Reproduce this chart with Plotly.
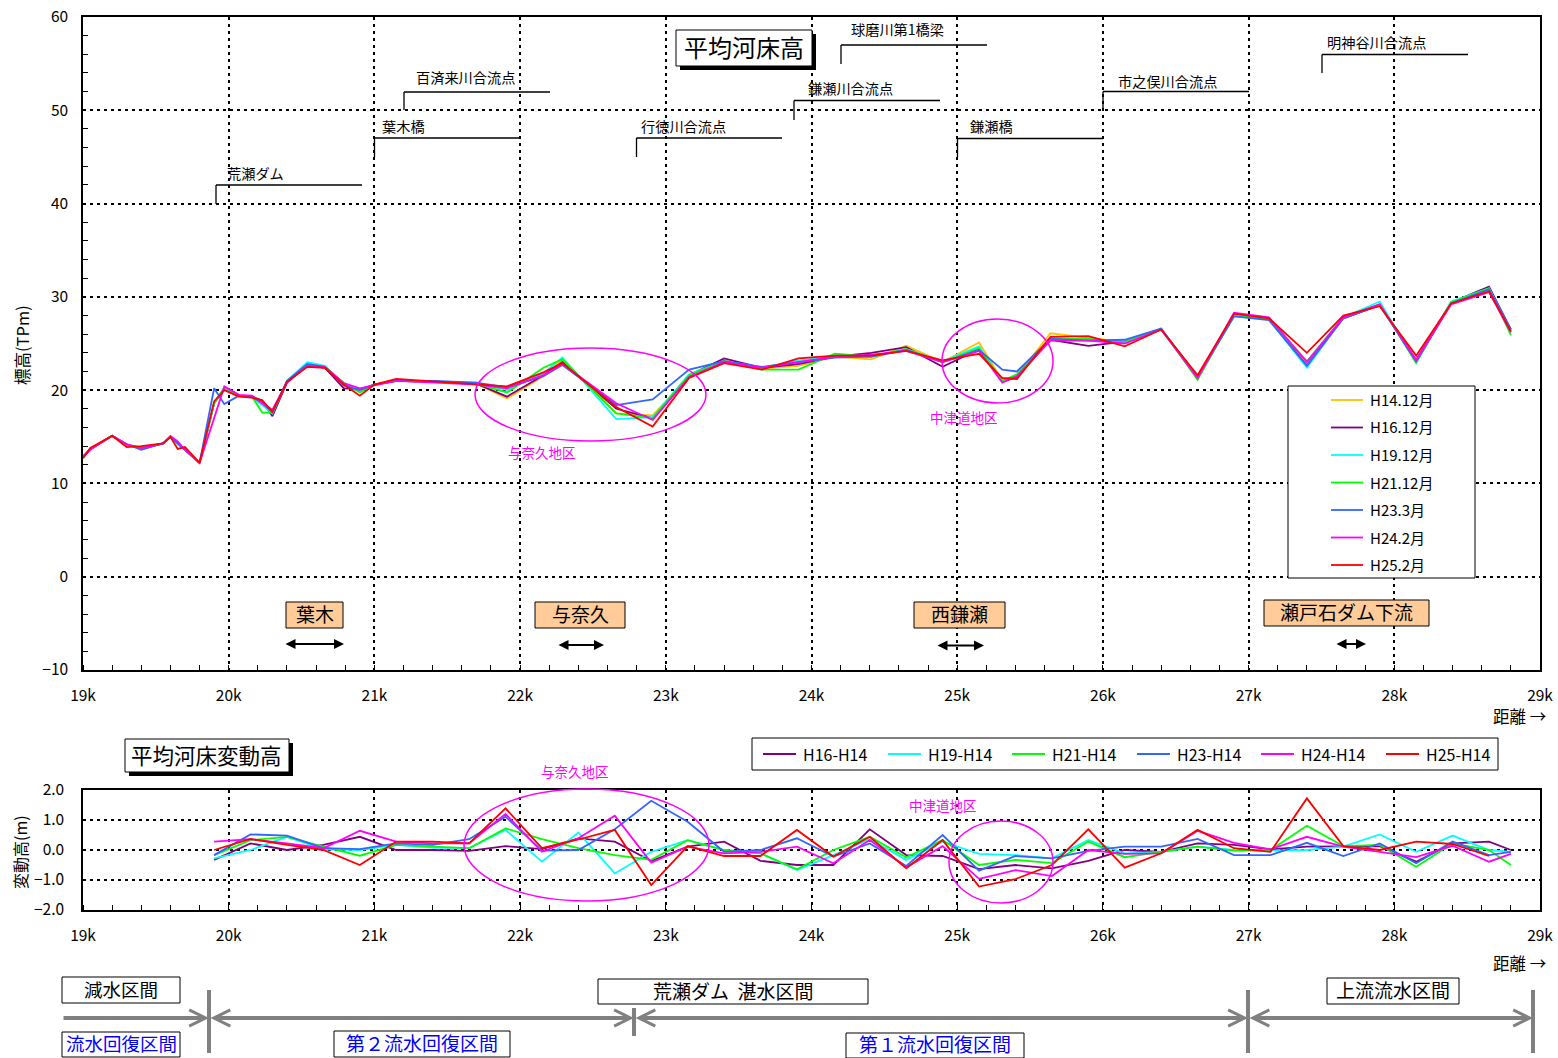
import plotly.graph_objects as go

W, H = 1558, 1058

# ---------------- data ----------------
TICK_KM = [19, 20, 21, 22, 23, 24, 25, 26, 27, 28, 29]
TICK_LABELS = ["19k", "20k", "21k", "22k", "23k", "24k", "25k", "26k", "27k", "28k", "29k"]

TOP_KM = [19.0, 19.05, 19.2, 19.3, 19.4, 19.55, 19.6, 19.65, 19.7, 19.8,
          19.9, 19.97, 20.07, 20.16, 20.23, 20.3, 20.4, 20.54, 20.66, 20.79,
          20.9, 21.0, 21.15, 21.42, 21.7, 21.91, 22.16, 22.29, 22.66, 22.91,
          23.16, 23.4, 23.66, 23.91, 24.16, 24.41, 24.65, 24.9, 25.15, 25.31,
          25.41, 25.64, 25.9, 26.15, 26.4, 26.65, 26.9, 27.14, 27.4, 27.65,
          27.9, 28.15, 28.39, 28.65, 28.8]

H14_12 = [12.8, 13.7, 15.1, 14.2, 13.7, 14.3, 15.0, 14.3, 13.6, 12.2,
          18.6, 20.1, 19.4, 19.3, 18.7, 17.5, 20.9, 22.7, 22.4, 20.4,
          19.9, 20.6, 21.0, 20.9, 20.7, 19.1, 21.5, 23.2, 17.5, 17.3,
          21.5, 23.2, 22.3, 22.6, 23.6, 23.3, 24.75, 23.0, 25.1, 21.0,
          21.5, 26.1, 25.6, 25.2, 26.5, 21.4, 28.0, 27.6, 22.8, 27.8,
          29.2, 23.2, 29.3, 30.9, 26.4]
H16_12 = [12.8, 13.7, 15.1, 14.2, 13.7, 14.3, 15.0, 14.3, 13.6, 12.2,
          18.6, 20.1, 19.4, 19.3, 18.9, 17.2, 20.8, 22.7, 22.4, 20.2,
          20.1, 20.6, 21.0, 20.9, 20.7, 19.3, 21.6, 23.0, 18.0, 17.0,
          21.6, 23.4, 22.4, 22.8, 23.6, 24.0, 24.6, 22.5, 24.4, 20.9,
          21.4, 25.4, 24.75, 25.2, 26.5, 21.4, 28.0, 27.6, 22.6, 27.7,
          29.1, 23.2, 29.4, 31.1, 26.5]
H19_12 = [12.9, 13.7, 15.1, 14.2, 13.8, 14.3, 15.0, 14.3, 13.6, 12.2,
          18.6, 20.2, 19.4, 19.2, 18.4, 17.5, 21.0, 23.0, 22.6, 20.6,
          20.0, 20.6, 21.0, 20.9, 20.8, 20.0, 21.8, 23.5, 16.9, 17.1,
          21.7, 23.1, 22.4, 23.2, 23.6, 23.6, 24.4, 23.1, 24.7, 20.9,
          21.6, 25.6, 25.4, 25.1, 26.5, 21.3, 28.0, 27.6, 22.4, 27.8,
          29.5, 23.0, 29.5, 30.9, 26.4]
H21_12 = [12.8, 13.7, 15.1, 14.1, 13.8, 14.3, 15.0, 14.2, 13.7, 12.2,
          18.6, 20.3, 19.4, 19.3, 17.6, 17.6, 20.9, 22.7, 22.5, 20.8,
          19.75, 20.6, 21.0, 20.9, 20.7, 19.75, 22.4, 23.3, 17.5, 17.0,
          21.6, 23.1, 22.2, 22.2, 23.9, 23.6, 24.4, 23.0, 24.5, 21.0,
          21.7, 25.5, 25.5, 25.2, 26.6, 21.1, 28.1, 27.6, 23.1, 27.8,
          29.2, 22.9, 29.4, 30.9, 25.9]
H23_3 = [12.9, 13.7, 15.1, 14.2, 13.6, 14.3, 15.0, 14.3, 13.6, 12.2,
         20.2, 18.5, 19.4, 19.3, 18.6, 17.6, 21.0, 22.8, 22.5, 20.5,
         20.0, 20.6, 21.0, 21.0, 20.8, 20.3, 21.5, 22.7, 18.4, 19.0,
         22.2, 23.1, 22.5, 23.0, 23.5, 23.6, 24.3, 23.0, 24.3, 22.2,
         22.0, 25.5, 25.3, 25.4, 26.6, 21.4, 27.9, 27.5, 22.6, 27.7,
         29.1, 23.1, 29.3, 30.8, 26.5]
H24_2 = [12.8, 13.6, 15.1, 14.2, 13.8, 14.3, 15.1, 14.5, 13.6, 12.2,
         17.0, 20.4, 19.5, 19.4, 18.6, 17.9, 20.8, 22.6, 22.5, 20.75,
         20.2, 20.5, 21.0, 20.8, 20.6, 20.2, 21.6, 22.8, 18.6, 16.8,
         21.4, 23.0, 22.4, 23.0, 23.6, 23.8, 24.2, 23.0, 24.2, 20.8,
         21.5, 25.3, 25.3, 25.0, 26.5, 21.3, 28.3, 27.8, 23.0, 27.8,
         29.2, 23.2, 29.2, 30.5, 26.2]
H25_2 = [12.7, 13.8, 15.1, 13.9, 14.0, 14.3, 15.0, 13.7, 13.9, 12.2,
         18.8, 20.0, 19.3, 19.2, 18.9, 17.7, 20.9, 22.5, 22.4, 20.6,
         19.4, 20.6, 21.2, 20.9, 20.6, 20.4, 21.9, 22.9, 18.2, 16.1,
         21.3, 22.9, 22.2, 23.4, 23.7, 23.7, 24.2, 23.2, 23.9, 21.3,
         21.2, 25.7, 25.8, 24.7, 26.5, 21.6, 28.2, 27.7, 24.0, 28.0,
         29.0, 23.7, 29.3, 30.6, 26.3]

TOP_NAMES = ["H14.12月", "H16.12月", "H19.12月", "H21.12月", "H23.3月", "H24.2月", "H25.2月"]
TOP_COLORS = ["#FFC000", "#800080", "#00FFFF", "#00FF00", "#3366FF", "#FF00FF", "#FF0000"]

BOT_KM = [19.9, 20.15, 20.4, 20.65, 20.9, 21.15, 21.4, 21.65, 21.9, 22.15,
          22.4, 22.65, 22.9, 23.15, 23.4, 23.65, 23.9, 24.15, 24.4, 24.65,
          24.9, 25.15, 25.4, 25.65, 25.9, 26.15, 26.4, 26.65, 26.9, 27.15,
          27.4, 27.65, 27.9, 28.15, 28.4, 28.65, 28.8]

D16 = [-0.33, 0.22, 0.0, 0.17, 0.44, 0.0, 0.0, -0.03, 0.13, 0.03,
       0.39, 0.28, -0.37, 0.11, 0.28, -0.36, -0.5, -0.5, 0.69, -0.17,
       -0.2, -0.64, -0.5, -0.61, -0.36, 0.0, -0.06, 0.22, 0.17, 0.02,
       0.11, 0.13, 0.13, -0.39, 0.22, 0.28, 0.0]
D19 = [-0.28, 0.0, 0.44, 0.02, 0.0, 0.17, 0.08, 0.06, 0.67, -0.39,
       0.58, -0.78, -0.06, 0.33, 0.0, -0.11, -0.67, -0.17, 0.36, -0.33,
       0.28, -0.13, -0.17, -0.28, 0.33, -0.11, -0.06, 0.11, 0.0, -0.02,
       0.0, 0.11, 0.52, -0.06, 0.48, 0.0, -0.06]
D21 = [-0.17, 0.33, 0.44, 0.11, -0.19, 0.17, 0.11, 0.06, 0.72, 0.36,
       0.06, -0.17, -0.33, 0.33, 0.0, -0.11, -0.64, 0.0, 0.44, -0.24,
       0.33, -0.5, -0.33, -0.44, 0.28, -0.24, -0.06, 0.11, -0.02, 0.0,
       0.81, 0.13, 0.17, -0.56, 0.22, 0.0, -0.5]
D23 = [-0.17, 0.52, 0.48, 0.06, 0.03, 0.22, 0.17, 0.36, 1.11, -0.02,
       0.0, 0.69, 1.64, 0.94, -0.06, 0.0, 0.39, -0.22, 0.22, -0.53,
       0.5, -0.69, -0.2, -0.28, -0.03, 0.11, 0.11, 0.37, -0.17, -0.17,
       0.24, -0.2, 0.22, -0.44, 0.28, -0.17, -0.06]
D24 = [0.28, 0.36, 0.22, 0.06, 0.64, 0.28, 0.22, 0.22, 1.2, -0.06,
       0.39, 1.14, -0.42, 0.11, -0.11, -0.06, 0.11, -0.44, 0.33, -0.58,
       0.13, -0.96, -0.67, -0.87, 0.0, -0.13, -0.11, 0.64, 0.24, 0.02,
       0.44, 0.11, -0.06, -0.24, 0.14, -0.39, -0.13]
D25 = [0.0, 0.37, 0.17, 0.0, -0.5, 0.28, 0.28, 0.22, 1.39, 0.06,
       0.35, 0.67, -1.17, 0.13, -0.2, -0.2, 0.67, -0.22, 0.44, -0.61,
       0.33, -1.22, -0.97, -0.5, 0.69, -0.59, -0.11, 0.67, 0.06, -0.06,
       1.72, 0.13, 0.0, 0.28, 0.2, -0.2, None]

BOT_NAMES = ["H16-H14", "H19-H14", "H21-H14", "H23-H14", "H24-H14", "H25-H14"]
BOT_COLORS = ["#800080", "#00FFFF", "#00FF00", "#3366FF", "#FF00FF", "#FF0000"]

# ---------------- helpers ----------------
def PX(x):
    return x / W

def PY(y):
    return 1 - y / H

FONT = "Noto Sans CJK JP"
NUMFONT = "Liberation Sans Narrow, Noto Sans CJK JP"

fig = go.Figure()

for name, vals, col in zip(TOP_NAMES, [H14_12, H16_12, H19_12, H21_12, H23_3, H24_2, H25_2], TOP_COLORS):
    fig.add_trace(go.Scatter(x=TOP_KM, y=vals, mode="lines", name=name,
                             line=dict(color=col, width=1.8), xaxis="x", yaxis="y",
                             showlegend=False))

for name, vals, col in zip(BOT_NAMES, [D16, D19, D21, D23, D24, D25], BOT_COLORS):
    fig.add_trace(go.Scatter(x=BOT_KM, y=vals, mode="lines", name=name,
                             line=dict(color=col, width=1.8), xaxis="x2", yaxis="y2",
                             showlegend=False, connectgaps=False))

shapes = []
ann = []

def rect(x0, y0, x1, y1, fill="white", line="black", lw=1):
    shapes.append(dict(type="rect", xref="paper", yref="paper",
                       x0=PX(x0), x1=PX(x1), y0=PY(y1), y1=PY(y0),
                       fillcolor=fill, line=dict(color=line, width=lw), layer="above"))

def seg(x0, y0, x1, y1, color="black", lw=1.3):
    shapes.append(dict(type="line", xref="paper", yref="paper",
                       x0=PX(x0), x1=PX(x1), y0=PY(y0), y1=PY(y1),
                       line=dict(color=color, width=lw), layer="above"))

def text(x, y, s, size=14, color="black", xanchor="center", family=FONT, angle=0, dy=-1.5):
    ann.append(dict(xref="paper", yref="paper", x=PX(x), y=PY(y + dy), text=s,
                    showarrow=False, xanchor=xanchor, yanchor="middle",
                    font=dict(size=size, color=color, family=family), textangle=angle))

def ellipse(x0, y0, x1, y1):
    shapes.append(dict(type="circle", xref="paper", yref="paper",
                       x0=PX(x0), x1=PX(x1), y0=PY(y1), y1=PY(y0),
                       line=dict(color="#FF00FF", width=1.5), layer="above"))

def arrow(x0, x1, y, color="black", width=2, side="end+start", head=2, size=1.0):
    ann.append(dict(xref="paper", yref="paper", x=PX(x1), y=PY(y),
                    axref="pixel", ayref="pixel", ax=x0 - x1, ay=0, text="",
                    showarrow=True, arrowside=side, arrowhead=head, startarrowhead=head,
                    arrowsize=size, startarrowsize=size, arrowwidth=width, arrowcolor=color,
                    standoff=0, startstandoff=0))

# landmark leaders in top chart
LEADERS = [
    ("荒瀬ダム", 216, 185, 204, 362, 225, 174),
    ("葉木橋", 374.5, 138, 157, 520, 380, 128),
    ("百済来川合流点", 404, 92, 110, 550, 414, 79),
    ("行徳川合流点", 636.5, 138, 157, 782, 639, 128),
    ("鎌瀬川合流点", 794, 100.5, 120, 940, 806, 90),
    ("球磨川第1橋梁", 841, 45, 64, 987, 849, 31),
    ("鎌瀬橋", 957.5, 138.5, 157, 1103, 968, 128),
    ("市之俣川合流点", 1103, 91.5, 110, 1249, 1116, 82),
    ("明神谷川合流点", 1322, 54.5, 73, 1468, 1325, 44),
]
for s, xv, yh, yb, xe, tx, ty in LEADERS:
    seg(xv, yb, xv, yh)
    seg(xv, yh, xe, yh)
    text(tx, ty, s, size=14.2, xanchor="left")

# main titles with shadow
rect(680, 34, 816, 70, fill="black", lw=0)
rect(676, 30, 812, 66)
text(744, 48, "平均河床高", size=24)
rect(129, 743, 293, 776, fill="black", lw=0)
rect(125, 739, 289, 772)
text(207, 756, "平均河床変動高", size=21.5)

# region boxes
for s, x0, y0, x1, y1 in [("葉木", 286, 602, 343, 628), ("与奈久", 535, 602, 625, 628),
                          ("西鎌瀬", 914, 602, 1005, 628), ("瀬戸石ダム下流", 1264, 600, 1429, 626)]:
    rect(x0, y0, x1, y1, fill="#FFCC99")
    text((x0 + x1) / 2, (y0 + y1) / 2, s, size=19)
for x0, x1, y in [(284, 344, 644), (557, 604, 645), (936, 984, 645.5), (1335, 1366, 644)]:
    arrow(x0, x1, y)

# ellipses and area labels
ellipse(475, 348, 706, 441)
ellipse(942, 319, 1053, 403)
ellipse(464, 789, 709, 901)
ellipse(949, 821, 1053, 903)
text(542, 454, "与奈久地区", size=13.5, color="#FF00FF")
text(964, 418, "中津道地区", size=13.5, color="#FF00FF")
text(575, 772, "与奈久地区", size=13.5, color="#FF00FF")
text(943, 806, "中津道地区", size=13.5, color="#FF00FF")

# top legend (custom)
rect(1288, 386, 1475, 578, lw=1)
for i, (name, col) in enumerate(zip(TOP_NAMES, TOP_COLORS)):
    yy = 400 + i * 27.5
    seg(1331, yy, 1363, yy, color=col, lw=1.8)
    text(1368, yy, name, size=15, xanchor="left", family=NUMFONT, dy=-0.5)

# bottom legend (custom)
rect(752, 738, 1498, 770, lw=1)
BL_X = [763, 888, 1012, 1137, 1261, 1386]
for name, col, lx in zip(BOT_NAMES, BOT_COLORS, BL_X):
    seg(lx, 754, lx + 33, 754, color=col, lw=1.8)
    text(lx + 38, 754, name, size=16, xanchor="left", family=NUMFONT, dy=-0.5)

# axis titles
text(22, 345, "標高(TPm)", size=16.5, angle=-90, dy=0)
text(20, 852, "変動高(m)", size=16, angle=-90, dy=0)
text(1519, 717, "距離 →", size=16.5)
text(1519, 964, "距離 →", size=16.5)

# section diagram below
GRAY = "#808080"
rect(62, 977, 180, 1003)
text(121, 990, "減水区間", size=18.5)
rect(62, 1032, 180, 1057)
text(121, 1044.5, "流水回復区間", size=18.5, color="#0000FF")
rect(598, 979, 868, 1004)
text(733, 991.5, "荒瀬ダム  湛水区間", size=19)
rect(1327, 978, 1459, 1004)
text(1393, 991, "上流流水区間", size=19)
rect(334, 1031, 510, 1057)
text(422, 1044, "第２流水回復区間", size=19, color="#0000FF")
rect(846, 1033, 1024, 1058)
text(935, 1045, "第１流水回復区間", size=19, color="#0000FF")

for xv, y0, y1 in [(209, 990, 1053), (634, 1008, 1036), (1248, 990, 1053), (1533, 990, 1053)]:
    seg(xv, y0, xv, y1, color=GRAY, lw=4)
arrow(62, 209, 1018, color=GRAY, width=4, side="end", head=5, size=0.8)
arrow(209, 634, 1018, color=GRAY, width=4, side="end+start", head=5, size=0.8)
arrow(634, 1248, 1018, color=GRAY, width=4, side="end+start", head=5, size=0.8)
arrow(1248, 1533, 1018, color=GRAY, width=4, side="end+start", head=5, size=0.8)

GRID = dict(showgrid=True, gridcolor="black", gridwidth=1.6, griddash="3px,4px")
AXLINE = dict(showline=True, linecolor="black", linewidth=1.5, mirror=True, zeroline=False,
              automargin=False)

fig.update_layout(
    width=W, height=H, autosize=False,
    margin=dict(l=0, r=0, t=0, b=0, pad=0),
    paper_bgcolor="white", plot_bgcolor="white",
    font=dict(family=FONT, color="black"),
    showlegend=False,
    shapes=shapes, annotations=ann,
    xaxis=dict(domain=[PX(83), PX(1540)], range=[19, 29], anchor="y",
               tickmode="array", tickvals=TICK_KM, ticktext=TICK_LABELS,
               ticks="", ticklabelstandoff=11,
               tickfont=dict(size=15.5, family=NUMFONT),
               minor=dict(tick0=19, dtick=0.2, ticks="inside", ticklen=5,
                          tickcolor="black", tickwidth=1, showgrid=False),
               **GRID, **AXLINE),
    yaxis=dict(domain=[PY(670), PY(17)], range=[-10, 60], anchor="x",
               tick0=0, dtick=10, ticks="", ticklabelstandoff=10,
               tickfont=dict(size=15.5, family=NUMFONT),
               minor=dict(tick0=0, dtick=2, ticks="inside", ticklen=5,
                          tickcolor="black", tickwidth=1, showgrid=False),
               **GRID, **AXLINE),
    xaxis2=dict(domain=[PX(83), PX(1540)], range=[19, 29], anchor="y2",
                tickmode="array", tickvals=TICK_KM, ticktext=TICK_LABELS,
                ticks="", ticklabelstandoff=11,
                tickfont=dict(size=15.5, family=NUMFONT),
                minor=dict(tick0=19, dtick=0.2, ticks="inside", ticklen=5,
                           tickcolor="black", tickwidth=1, showgrid=False),
                **GRID, **AXLINE),
    yaxis2=dict(domain=[PY(910), PY(790)], range=[-2, 2], anchor="x2",
                tick0=0, dtick=1, tickformat=".1f", ticks="", ticklabelstandoff=14,
                tickfont=dict(size=15.5, family=NUMFONT),
                **GRID, **AXLINE),
)

fig.write_html("out.html", config={"displayModeBar": False},
               post_script="document.body.style.margin='0';document.body.style.overflow='hidden';")
